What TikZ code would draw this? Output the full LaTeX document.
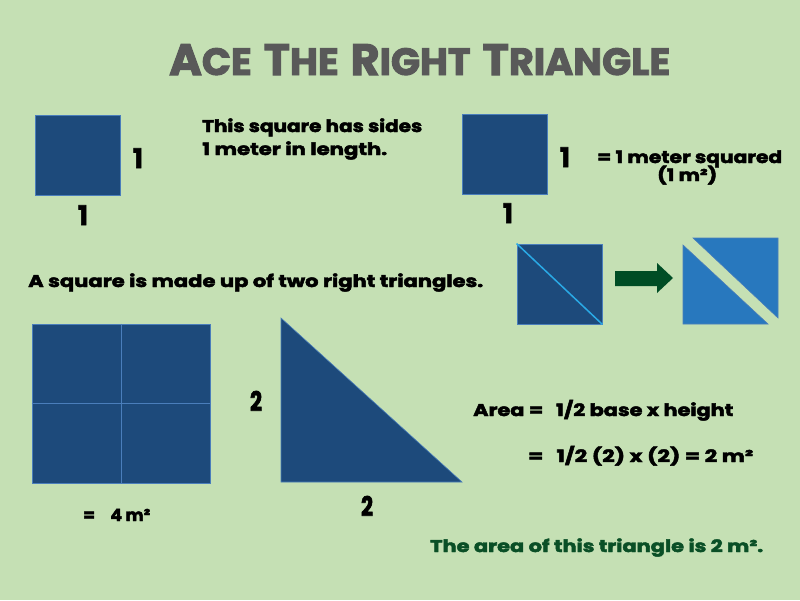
\documentclass[tikz,border=0pt]{standalone}
\usepackage{fontspec}
\setmainfont{Poppins}
\usepackage{graphicx}
\definecolor{bg}{HTML}{C5E0B4}
\definecolor{navy}{HTML}{1D4A7B}
\definecolor{edge}{HTML}{4A7EBB}
\definecolor{midblue}{HTML}{2878BE}
\definecolor{cyanline}{HTML}{2AAAE6}
\definecolor{arrowgreen}{HTML}{004D25}
\definecolor{titlegray}{HTML}{595959}
\definecolor{textgreen}{HTML}{0A4F26}
\newcommand{\fitw}[2]{\resizebox{#1}{\height}{#2}}
\newcommand{\tbig}[1]{{\fontsize{44}{44}\selectfont\MakeUppercase{#1}}}
\newcommand{\tsml}[1]{{\fontsize{38}{38}\selectfont\MakeUppercase{#1}}}
\newcommand{\heavy}{\bfseries\addfontfeature{FakeBold=2.5}}
\begin{document}
\begin{tikzpicture}[x=1pt,y=-1pt,
  txt/.style={inner sep=0pt, anchor=base west, font=\heavy\fontsize{17}{17}\selectfont},
  num/.style={inner sep=0pt, anchor=base, font=\heavy\fontsize{27}{27}\selectfont},
  sqbox/.style={draw=edge, line width=0.8pt, fill=navy, inner sep=0pt, anchor=center},
  tri/.style={draw=edge, line width=0.6pt}
]
\fill[bg] (0,0) rectangle (800,600);
\path[use as bounding box] (0,0) rectangle (800,600);

% title
\node[inner sep=0pt, anchor=base west, text=titlegray, font=\heavy\fontsize{40}{40}\selectfont] (title) at (169,75)
  {\fitw{501pt}{\tbig{A}\tsml{CE}\hspace{0.3em}\tbig{T}\tsml{HE}\hspace{0.3em}\tbig{R}\tsml{IGHT}\hspace{0.3em}\tbig{T}\tsml{RIANGLE}}};

% square 1
\node[sqbox, minimum width=85pt, minimum height=80pt] (sq1) at (77.5,155.5) {};
\node[num] (sq1r) at (138,168) {\fitw{10pt}{1}};
\node[num] (sq1b) at (83,225) {\fitw{10pt}{1}};
\node[txt] (desc1) at (202,132) {\fitw{220pt}{This square has sides}};
\node[txt] (desc2) at (202,155) {\fitw{185pt}{1 meter in length.}};

% square 2
\node[sqbox, minimum width=85pt, minimum height=80pt] (sq2) at (504.5,154) {};
\node[num] (sq2r) at (565,167) {\fitw{10pt}{1}};
\node[num] (sq2b) at (508,223) {\fitw{10pt}{1}};
\node[txt] (eq1) at (597,163) {\fitw{185pt}{= 1 meter squared}};
\node[txt] (eq1b) at (657,181) {\fitw{60pt}{(1 m²)}};

% two right triangles
\node[txt] (twotri) at (28,287) {\fitw{455pt}{A square is made up of two right triangles.}};
\node[sqbox, minimum width=85pt, minimum height=80pt] (sq3) at (559.5,284) {};
\draw[cyanline, line width=1.5pt] (sq3.north west) -- (sq3.south east);
\coordinate (a1) at (615,271);
\coordinate (a2) at (657,271);
\coordinate (a3) at (657,263);
\coordinate (a4) at (673,278);
\coordinate (a5) at (657,293);
\coordinate (a6) at (657,286);
\coordinate (a7) at (615,286);
\fill[arrowgreen] (a1) -- (a2) -- (a3) -- (a4) -- (a5) -- (a6) -- (a7) -- cycle;
\filldraw[tri, fill=midblue] (683,245) -- (683,324) -- (768,324) -- cycle;
\filldraw[tri, fill=midblue] (693,238) -- (778,238) -- (778,318) -- cycle;

% big square
\node[sqbox, minimum width=178pt, minimum height=159pt] (big) at (121,403.5) {};
\draw[edge, line width=0.8pt] (big.north) -- (big.south);
\draw[edge, line width=0.8pt] (big.west) -- (big.east);
\node[txt] (four) at (83,521) {\fitw{67pt}{=\hspace{0.9em}4 m²}};

% big triangle
\filldraw[tri, fill=navy] (281,318) -- (281,482) -- (462,482) -- cycle;
\node[num] (tl) at (256,411) {\fitw{12pt}{2}};
\node[num] (tb) at (367,516) {\fitw{12pt}{2}};

% area formula
\node[txt] (area1) at (473,416) {\fitw{260pt}{Area =\hspace{0.4em} 1/2 base x height}};
\node[txt] (area2) at (528,462) {\fitw{225pt}{=\hspace{0.4em} 1/2 (2) x (2) = 2 m²}};
\node[txt, text=textgreen] (concl) at (430,552) {\fitw{333pt}{The area of this triangle is 2 m².}};
\end{tikzpicture}
\end{document}
